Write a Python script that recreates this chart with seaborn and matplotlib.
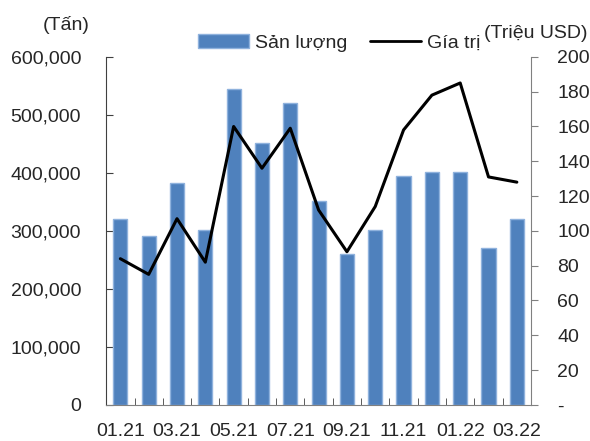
import numpy as np
import pandas as pd
import matplotlib
matplotlib.use('Agg')
import matplotlib.pyplot as plt
import seaborn as sns
from matplotlib.ticker import FuncFormatter, FixedLocator
from matplotlib.patches import Patch
from matplotlib.lines import Line2D

# Du lieu
thang = ['01.21', '02.21', '03.21', '04.21', '05.21', '06.21', '07.21', '08.21',
         '09.21', '10.21', '11.21', '12.21', '01.22', '02.22', '03.22']
san_luong = [320000, 291000, 383000, 301000, 545000, 451000, 521000, 351000,
             260000, 301000, 394000, 401000, 401000, 271000, 321000]
gia_tri = [84, 75, 107, 82, 160, 136, 159, 112, 88, 114, 158, 178, 185, 131, 128]

df = pd.DataFrame({'thang': thang, 'san_luong': san_luong, 'gia_tri': gia_tri})
df['pos'] = np.arange(len(df))

sns.set_style('white')
plt.rcParams['font.family'] = ['Liberation Sans', 'DejaVu Sans']
fs = 14

fig = plt.figure(figsize=(5.9, 4.41), dpi=100)
ax = fig.add_axes([0.18, 0.082, 0.72, 0.789])

sns.barplot(data=df, x='thang', y='san_luong', color='#4f81bd', width=0.5,
            edgecolor='#8fb2dd', linewidth=1.0, saturation=1, ax=ax)
ax.set_xlim(-0.5, len(df) - 0.5)
ax.set_ylim(0, 600000)
ax.set_yticks(np.arange(0, 600001, 100000))
ax.yaxis.set_major_formatter(FuncFormatter(lambda v, p: f'{int(v):,}'))
ax.set_xlabel('')
ax.set_ylabel('')

ax2 = ax.twinx()
sns.lineplot(data=df, x='pos', y='gia_tri', color='black', linewidth=2.2, ax=ax2)
ax2.set_ylim(0, 200)
ax2.set_yticks(np.arange(0, 201, 20))
ax2.yaxis.set_major_formatter(FuncFormatter(lambda v, p: '-' if v == 0 else f'{int(v)}'))
ax2.set_xlim(-0.5, len(df) - 0.5)
ax2.set_xlabel('')
ax2.set_ylabel('')

# x ticks
ax.xaxis.set_major_locator(FixedLocator(np.arange(0, len(df), 2)))
ax.set_xticklabels(thang[::2])
ax.xaxis.set_minor_locator(FixedLocator(np.arange(-0.5, len(df), 1)))
ax.tick_params(axis='x', which='both', direction='in', length=5, color='#404040',
               labelsize=fs, bottom=True, pad=13)
ax.tick_params(axis='x', which='major', length=0)
ax.tick_params(axis='y', direction='in', length=5, color='#404040', labelsize=fs, left=True, pad=18)
ax2.tick_params(axis='y', direction='out', length=5, color='#808080', labelsize=fs, right=True, pad=14)

for a in (ax, ax2):
    a.spines['top'].set_visible(False)
ax.spines['left'].set_color('#404040')
ax.spines['bottom'].set_color('#808080')
ax.spines['right'].set_visible(False)
ax2.spines['left'].set_visible(False)
ax2.spines['bottom'].set_visible(False)
ax2.spines['right'].set_color('#808080')

fig.text(0.112, 0.943, '(Tấn)', ha='center', va='center', fontsize=fs)
fig.text(0.908, 0.925, '(Triệu USD)', ha='center', va='center', fontsize=fs)

handles = [Patch(facecolor='#4f81bd', edgecolor='#8fb2dd'),
           Line2D([0], [0], color='black', linewidth=2)]
fig.legend(handles, ['Sản lượng', 'Gía trị'], loc='center', bbox_to_anchor=(0.575, 0.902),
           ncol=2, frameon=False, fontsize=fs, handlelength=2.6, handletextpad=0.3,
           columnspacing=1.2)

fig.savefig('out.png', dpi=100)
